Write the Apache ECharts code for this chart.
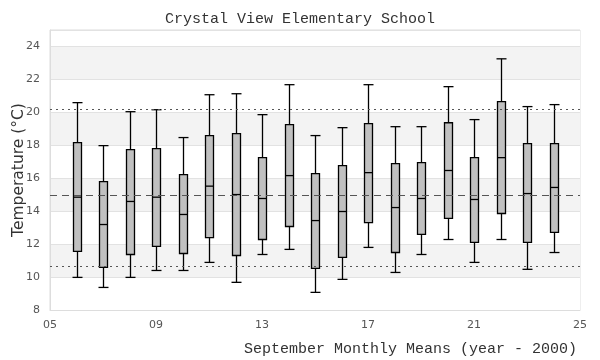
<!DOCTYPE html>
<html><head><meta charset="utf-8">
<script src="https://cdn.jsdelivr.net/npm/echarts@6/dist/echarts.min.js"></script>
<style>html,body{margin:0;padding:0;background:#fff}#c{width:600px;height:360px}</style>
</head><body><div id="c"></div>
<script>
const years = [6,7,8,9,10,11,12,13,14,15,16,17,18,19,20,21,22,23,24];
const mins    = [9.98, 9.37, 9.98,10.40,10.40,10.89, 9.68,11.37,11.68, 9.07, 9.86,11.80,10.28,11.37,12.28,10.89,12.28,10.47,11.49];
const q1s     = [11.56,10.59,11.37,11.86,11.43,12.40,11.31,12.28,13.07,10.53,11.19,13.31,11.49,12.59,13.56,12.10,13.86,12.10,12.71];
const medians = [14.85,13.19,14.59,14.85,13.80,15.52,15.01,14.77,16.16,13.43,13.98,16.34,14.22,14.77,16.47,14.71,17.25,15.07,15.44];
const q3s     = [18.16,15.80,17.74,17.80,16.22,18.59,18.71,17.25,19.25,16.28,16.77,19.31,16.89,16.95,19.37,17.25,20.65,18.10,18.10];
const maxs    = [20.59,17.98,20.04,20.16,18.47,21.07,21.13,19.86,21.68,18.59,19.07,21.68,19.13,19.13,21.56,19.56,23.25,20.35,20.47];
const refUpper = 20.16;
const refMean = 14.95;
const refLower = 10.65;
const xTicks = [5, 9, 13, 17, 21, 25];
const yTicks = [8, 10, 12, 14, 16, 18, 20, 22, 24];

const data = years.map((y, i) => [y, mins[i], q1s[i], medians[i], q3s[i], maxs[i]]);

const chart = echarts.init(document.getElementById('c'), null, {renderer: 'canvas'});
const BOXW = 8, CAPW = 10;
chart.setOption({
  animation: false,
  backgroundColor: '#fff',
  title: [{
    text: 'Crystal View Elementary School',
    left: 'center', top: 7,
    textStyle: {fontFamily: 'Liberation Mono', fontSize: 15, fontWeight: 'normal', color: '#333'}
  }, {
    text: 'September Monthly Means (year - 2000)',
    right: 18, top: 337,
    textStyle: {fontFamily: 'Liberation Mono', fontSize: 15, fontWeight: 'normal', color: '#333'}
  }],
  grid: {left: 50, right: 20, top: 30, bottom: 50, show: true, borderColor: '#ddd', borderWidth: 1,
    containLabel: false, outerBoundsMode: 'none'},
  xAxis: {
    type: 'value', min: 5, max: 25, interval: 4,
    axisLine: {show: true, lineStyle: {color: '#ddd'}},
    axisTick: {show: false},
    splitLine: {show: false},
    axisLabel: {color: '#555', fontSize: 11, fontFamily: 'DejaVu Sans', margin: 10,
      formatter: v => xTicks.includes(v) ? String(v).padStart(2, '0') : ''}
  },
  yAxis: {
    type: 'value', min: 8, max: 25, interval: 2,
    name: 'Temperature (°C)', nameLocation: 'middle', nameGap: 23, nameRotate: 90,
    nameMoveOverlap: false,
    nameTextStyle: {fontFamily: 'DejaVu Sans', fontSize: 15.5, color: '#333'},
    axisLine: {show: true, lineStyle: {color: '#ddd'}},
    axisTick: {show: false},
    splitLine: {show: true, lineStyle: {color: '#e2e2e2'}},
    splitArea: {show: true, areaStyle: {color: ['#ffffff', '#f3f3f3']}},
    axisLabel: {color: '#555', fontSize: 11, fontFamily: 'DejaVu Sans', margin: 10,
      formatter: v => yTicks.includes(v) ? String(v) : ''}
  },
  series: [{
    type: 'custom',
    data: data,
    encode: {x: 0, y: [1, 2, 3, 4, 5]},
    renderItem: function (params, api) {
      const x = api.value(0);
      const pMin = api.coord([x, api.value(1)]);
      const pQ1 = api.coord([x, api.value(2)]);
      const pMed = api.coord([x, api.value(3)]);
      const pQ3 = api.coord([x, api.value(4)]);
      const pMax = api.coord([x, api.value(5)]);
      const cx = Math.round(pMin[0]) + 0.5;
      const st = {stroke: '#000', lineWidth: 1.3, fill: null};
      return {type: 'group', children: [
        {type: 'line', shape: {x1: cx, y1: pMax[1], x2: cx, y2: pQ3[1]}, style: st},
        {type: 'line', shape: {x1: cx, y1: pQ1[1], x2: cx, y2: pMin[1]}, style: st},
        {type: 'line', shape: {x1: cx - CAPW/2, y1: pMax[1], x2: cx + CAPW/2, y2: pMax[1]}, style: st},
        {type: 'line', shape: {x1: cx - CAPW/2, y1: pMin[1], x2: cx + CAPW/2, y2: pMin[1]}, style: st},
        {type: 'rect', shape: {x: cx - BOXW/2, y: pQ3[1], width: BOXW, height: pQ1[1] - pQ3[1]},
          style: {stroke: '#000', lineWidth: 1.3, fill: '#c0c0c0'}},
        {type: 'line', shape: {x1: cx - BOXW/2, y1: pMed[1], x2: cx + BOXW/2, y2: pMed[1]}, style: st}
      ]};
    },
    markLine: {
      silent: true, symbol: 'none', label: {show: false}, animation: false,
      data: [
        {yAxis: refUpper, lineStyle: {color: '#555', width: 1, type: [2, 4]}},
        {yAxis: refMean, lineStyle: {color: '#555', width: 1, type: [7, 5]}},
        {yAxis: refLower, lineStyle: {color: '#555', width: 1, type: [2, 4]}}
      ]
    },
    z: 3
  }]
});
</script></body></html>
